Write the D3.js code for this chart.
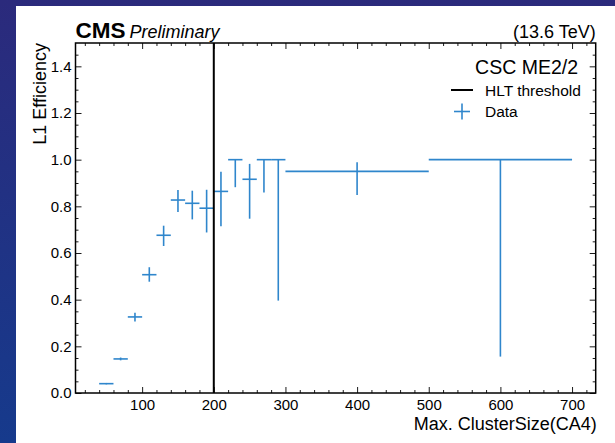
<!DOCTYPE html>
<html>
<head>
<meta charset="utf-8">
<script src="https://cdn.jsdelivr.net/npm/d3@7/dist/d3.min.js"></script>
<style>
  html, body { margin: 0; padding: 0; }
  body { width: 615px; height: 443px; overflow: hidden; }
  svg { display: block; }
</style>
</head>
<body>
<svg id="chart" width="615" height="443"></svg>
<script>
// Bin edges of Max. ClusterSize (CA4)
const binLo = [40, 60, 80, 100, 120, 140, 160, 180, 200, 220, 240, 260, 280, 300, 500];
const binHi = [60, 80, 100, 120, 140, 160, 180, 200, 220, 240, 260, 280, 300, 500, 700];
// L1 efficiency per bin and its asymmetric uncertainties
const eff   = [0.040, 0.146, 0.326, 0.507, 0.676, 0.827, 0.813, 0.792, 0.864, 1.000, 0.916, 1.000, 1.000, 0.950, 1.000];
const errLo = [0.003, 0.006, 0.020, 0.030, 0.046, 0.051, 0.069, 0.104, 0.149, 0.118, 0.169, 0.141, 0.604, 0.101, 0.844];
const errHi = [0.003, 0.006, 0.018, 0.032, 0.041, 0.043, 0.054, 0.079, 0.084, 0.000, 0.066, 0.000, 0.000, 0.039, 0.000];
// HLT threshold on the cluster size
const hltThreshold = 200;
// Axis ticks
const xTicks = [100, 200, 300, 400, 500, 600, 700];
const yTicks = [0.0, 0.2, 0.4, 0.6, 0.8, 1.0, 1.2, 1.4];

const W = 615, H = 443;
const plot = { left: 75.5, right: 595.7, top: 43, bottom: 393 };
const dataColor = "#2f86cc";
const font = "'Liberation Sans', Arial, Helvetica, sans-serif";

const svg = d3.select("#chart");

// slide background
const defs = svg.append("defs");
const bg = defs.append("linearGradient").attr("id", "bg")
  .attr("x1", 0).attr("y1", 0).attr("x2", 0).attr("y2", 1);
bg.append("stop").attr("offset", 0).attr("stop-color", "#2b2a7c");
bg.append("stop").attr("offset", 1).attr("stop-color", "#163a8c");
svg.append("rect").attr("width", W).attr("height", H).attr("fill", "url(#bg)");
// white figure canvas
svg.append("rect").attr("x", 16).attr("y", 6).attr("width", W - 16).attr("height", H - 6).attr("fill", "#ffffff");

const x = d3.scaleLinear().domain([7, 733]).range([plot.left, plot.right]);
const y = d3.scaleLinear().domain([0, 1.5]).range([plot.bottom, plot.top]);

const xMinor = d3.range(20, 733, 20).filter(v => v % 100 !== 0);
const yMinor = d3.range(0.05, 1.5, 0.05).filter(v => Math.abs(v * 5 - Math.round(v * 5)) > 1e-6);

// axes with inward ticks on all four sides
function styleAxis(g) {
  g.select(".domain").remove();
  g.selectAll(".tick line").attr("stroke", "#000").attr("stroke-width", 0.9);
  g.selectAll("text").attr("font-family", font).attr("font-size", 15).attr("fill", "#000");
}
const majorLen = 6, minorLen = 3;

svg.append("g").attr("transform", `translate(0,${plot.bottom})`)
  .call(d3.axisBottom(x).tickValues(xTicks).tickFormat(d3.format("d")).tickSizeInner(-majorLen).tickSizeOuter(0).tickPadding(6))
  .call(styleAxis);
svg.append("g").attr("transform", `translate(0,${plot.bottom})`)
  .call(d3.axisBottom(x).tickValues(xMinor).tickFormat("").tickSizeInner(-minorLen).tickSizeOuter(0))
  .call(styleAxis);
svg.append("g").attr("transform", `translate(0,${plot.top})`)
  .call(d3.axisTop(x).tickValues(xTicks).tickFormat("").tickSizeInner(-majorLen).tickSizeOuter(0))
  .call(styleAxis);
svg.append("g").attr("transform", `translate(0,${plot.top})`)
  .call(d3.axisTop(x).tickValues(xMinor).tickFormat("").tickSizeInner(-minorLen).tickSizeOuter(0))
  .call(styleAxis);

svg.append("g").attr("transform", `translate(${plot.left},0)`)
  .call(d3.axisLeft(y).tickValues(yTicks).tickFormat(d3.format(".1f")).tickSizeInner(-majorLen).tickSizeOuter(0).tickPadding(4))
  .call(styleAxis);
svg.append("g").attr("transform", `translate(${plot.left},0)`)
  .call(d3.axisLeft(y).tickValues(yMinor).tickFormat("").tickSizeInner(-minorLen).tickSizeOuter(0))
  .call(styleAxis);
svg.append("g").attr("transform", `translate(${plot.right},0)`)
  .call(d3.axisRight(y).tickValues(yTicks).tickFormat("").tickSizeInner(-majorLen).tickSizeOuter(0))
  .call(styleAxis);
svg.append("g").attr("transform", `translate(${plot.right},0)`)
  .call(d3.axisRight(y).tickValues(yMinor).tickFormat("").tickSizeInner(-minorLen).tickSizeOuter(0))
  .call(styleAxis);

// data: horizontal bin width and vertical error bars
const bins = binLo.map((lo, i) => ({ lo, hi: binHi[i], c: (lo + binHi[i]) / 2, e: eff[i], dn: errLo[i], up: errHi[i] }));
const pts = svg.append("g").attr("stroke", dataColor).attr("stroke-width", 1.6).attr("fill", "none");
pts.selectAll("line.h").data(bins).join("line").attr("class", "h")
  .attr("x1", d => x(d.lo)).attr("x2", d => x(d.hi))
  .attr("y1", d => y(d.e)).attr("y2", d => y(d.e));
pts.selectAll("line.v").data(bins.filter(d => d.dn + d.up > 0)).join("line").attr("class", "v")
  .attr("x1", d => x(d.c)).attr("x2", d => x(d.c))
  .attr("y1", d => y(d.e + d.up)).attr("y2", d => y(d.e - d.dn));

// HLT threshold
svg.append("line")
  .attr("x1", x(hltThreshold)).attr("x2", x(hltThreshold))
  .attr("y1", plot.top).attr("y2", plot.bottom)
  .attr("stroke", "#000").attr("stroke-width", 2);

// frame
svg.append("rect")
  .attr("x", plot.left).attr("y", plot.top)
  .attr("width", plot.right - plot.left).attr("height", plot.bottom - plot.top)
  .attr("fill", "none").attr("stroke", "#000").attr("stroke-width", 1.5);

// axis titles
svg.append("text").attr("x", plot.right + 1).attr("y", 430)
  .attr("text-anchor", "end").attr("font-family", font).attr("font-size", 18)
  .text("Max. ClusterSize(CA4)");
svg.append("text").attr("transform", `translate(46,${plot.top}) rotate(-90)`)
  .attr("text-anchor", "end").attr("font-family", font).attr("font-size", 18)
  .text("L1 Efficiency");

// header
const head = svg.append("text").attr("x", plot.left).attr("y", 38).attr("font-family", font);
head.append("tspan").attr("font-weight", "bold").attr("font-size", 22.5).text("CMS");
head.append("tspan").attr("font-style", "italic").attr("font-size", 18).attr("dx", 4).text("Preliminary");
svg.append("text").attr("x", plot.right).attr("y", 38).attr("text-anchor", "end")
  .attr("font-family", font).attr("font-size", 18).text("(13.6 TeV)");

// legend
svg.append("text").attr("x", 578).attr("y", 74).attr("text-anchor", "end")
  .attr("font-family", font).attr("font-size", 19.5).text("CSC ME2/2");
svg.append("line").attr("x1", 451).attr("x2", 473).attr("y1", 90).attr("y2", 90)
  .attr("stroke", "#000").attr("stroke-width", 2);
svg.append("text").attr("x", 485).attr("y", 95.5)
  .attr("font-family", font).attr("font-size", 15.5).text("HLT threshold");
const lg = svg.append("g").attr("stroke", dataColor).attr("stroke-width", 1.6);
lg.append("line").attr("x1", 454).attr("x2", 470).attr("y1", 111.5).attr("y2", 111.5);
lg.append("line").attr("x1", 462).attr("x2", 462).attr("y1", 103.5).attr("y2", 119.5);
svg.append("text").attr("x", 485).attr("y", 117)
  .attr("font-family", font).attr("font-size", 15.5).text("Data");
</script>
</body>
</html>
